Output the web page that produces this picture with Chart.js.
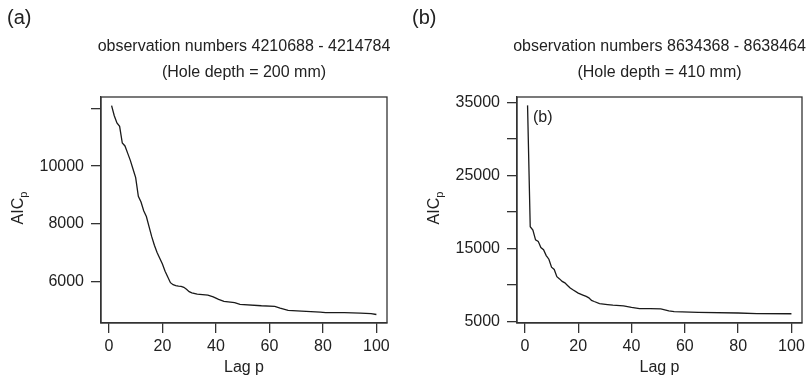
<!DOCTYPE html>
<html>
<head>
<meta charset="utf-8">
<script src="https://cdn.jsdelivr.net/npm/chart.js@4.4.1/dist/chart.umd.min.js"></script>
<style>
    html, body { margin: 0; padding: 0; background: #fff; }
    #wrap { position: relative; width: 810px; height: 380px; }
    canvas { position: absolute; top: 0; }
</style>
</head>
<body>
<div id="wrap">
    <canvas id="chartA" width="405" height="380" style="left:0"></canvas>
    <canvas id="chartB" width="405" height="380" style="left:405px"></canvas>
</div>
<script>
// ---- data ----
const lagA = [1, 2, 3, 4, 5, 6, 7, 8, 9, 10, 11, 12, 13, 14, 15, 16, 17, 18, 19, 20,
    21, 22, 23, 24, 25, 26, 27, 28, 29, 30, 31, 33, 37, 39, 41, 43, 47, 49, 57, 62,
    64, 67, 72, 79, 81, 88, 94, 98, 100];
const aicA = [12100, 11750, 11500, 11380, 10800, 10700, 10450, 10200, 9900, 9600,
    8950, 8750, 8450, 8250, 7900, 7550, 7250, 7000, 6800, 6600,
    6350, 6150, 5950, 5880, 5850, 5830, 5820, 5790, 5720, 5640, 5600, 5550, 5520, 5460,
    5370, 5300, 5260, 5200, 5150, 5130, 5070, 4990, 4960, 4930, 4910, 4910, 4890, 4875, 4845];

const lagB = [1, 2, 3, 4, 5, 6, 7, 8, 9, 10, 11, 12, 13, 14, 15, 16, 17, 18, 20, 22,
    23, 24, 25, 26, 28, 31, 33, 37, 40, 43, 47, 51, 54, 56, 65, 80, 87, 100];
const aicB = [34600, 17950, 17500, 16150, 15950, 15100, 14800, 14000, 13500, 12400,
    12100, 11100, 10800, 10450, 10250, 9900, 9550, 9300, 8850, 8550,
    8400, 8200, 7850, 7700, 7420, 7280, 7200, 7100, 6880, 6720, 6720, 6680, 6400, 6320,
    6200, 6120, 6030, 6020];

const xTicks = [0, 20, 40, 60, 80, 100];
const yTicksA = [6000, 8000, 10000, 12000];
const yTickLabelsA = ["6000", "8000", "10000", ""];
const yTicksB = [5000, 10000, 15000, 20000, 25000, 30000, 35000];
const yTickLabelsB = ["5000", "", "15000", "", "25000", "", "35000"];

const titlesA = ["observation numbers 4210688 - 4214784", "(Hole depth = 200 mm)"];
const titlesB = ["observation numbers 8634368 - 8638464", "(Hole depth = 410 mm)"];

const FONT = "'Liberation Sans', Arial, Helvetica, sans-serif";
const INK = "#222";
const AXIS = "#333";

// texte autour du graphique : lettre, titres, axes, cadre
function decorPlugin(letter, titles, innerLabel) {
    return {
        id: "decor",
        afterDraw(chart) {
            const ctx = chart.ctx;
            const a = chart.chartArea;
            const cx = (a.left + a.right) / 2;
            ctx.save();

            // cadre
            ctx.strokeStyle = AXIS;
            ctx.lineWidth = 1.3;
            ctx.strokeRect(a.left, a.top, a.right - a.left, a.bottom - a.top);

            ctx.fillStyle = INK;
            ctx.textBaseline = "middle";

            ctx.font = "20px " + FONT;
            ctx.textAlign = "left";
            ctx.fillText(letter, 7, 18);

            ctx.font = "16px " + FONT;
            ctx.textAlign = "center";
            ctx.fillText(titles[0], cx, 47);
            ctx.fillText(titles[1], cx, 73);

            ctx.fillText("Lag p", cx, 368);

            if (innerLabel) {
                ctx.textAlign = "left";
                ctx.fillText(innerLabel, a.left + 16, 118);
            }

            // AICp, p en indice
            const yc = (a.top + a.bottom) / 2 - 2;
            const xc = a.left - 82;
            ctx.translate(xc, yc);
            ctx.rotate(-Math.PI / 2);
            ctx.font = "16px " + FONT;
            const w1 = ctx.measureText("AIC").width;
            ctx.font = "11px " + FONT;
            const w2 = ctx.measureText("p").width;
            const x0 = -(w1 + w2) / 2;
            ctx.textAlign = "left";
            ctx.font = "16px " + FONT;
            ctx.fillText("AIC", x0, 0);
            ctx.font = "11px " + FONT;
            ctx.fillText("p", x0 + w1, 5);

            ctx.restore();
        },
    };
}

function makeChart(id, lags, aic, yMin, yMax, yTicks, yLabels, yWidth, padRight, plugin) {
    return new Chart(document.getElementById(id).getContext("2d"), {
        type: "line",
        data: {
            datasets: [
                {
                    data: lags.map((x, i) => ({ x: x, y: aic[i] })),
                    borderColor: "#1a1a1a",
                    borderWidth: 1.3,
                    pointRadius: 0,
                    fill: false,
                    tension: 0,
                },
            ],
        },
        options: {
            responsive: false,
            animation: false,
            devicePixelRatio: 1,
            layout: { padding: { top: 97, right: padRight, left: 0, bottom: 0 } },
            plugins: {
                legend: { display: false },
                tooltip: { enabled: false },
            },
            scales: {
                x: {
                    type: "linear",
                    min: -2.96,
                    max: 103.96,
                    afterBuildTicks: (s) => { s.ticks = xTicks.map((v) => ({ value: v })); },
                    afterFit: (s) => { s.height = 57; },
                    grid: { drawOnChartArea: false, tickLength: 10, color: AXIS, lineWidth: 1.3 },
                    border: { color: AXIS, width: 1.3 },
                    ticks: {
                        autoSkip: false,
                        maxRotation: 0,
                        padding: 4,
                        color: INK,
                        font: { family: FONT, size: 16 },
                        callback: (v) => String(v),
                    },
                },
                y: {
                    type: "linear",
                    min: yMin,
                    max: yMax,
                    afterBuildTicks: (s) => { s.ticks = yTicks.map((v) => ({ value: v })); },
                    afterFit: (s) => { s.width = yWidth; },
                    grid: { drawOnChartArea: false, tickLength: 10, color: AXIS, lineWidth: 1.3 },
                    border: { color: AXIS, width: 1.3 },
                    ticks: {
                        autoSkip: false,
                        padding: 7,
                        color: INK,
                        font: { family: FONT, size: 16 },
                        callback: (v, i) => yLabels[i],
                    },
                },
            },
        },
        plugins: [plugin],
    });
}

document.addEventListener("DOMContentLoaded", function () {
    if (typeof Chart === "undefined") {
        console.error("Chart.js not loaded");
        return;
    }
    makeChart("chartA", lagA, aicA, 4550, 12400, yTicksA, yTickLabelsA, 101, 18,
        decorPlugin("(a)", titlesA, null));
    makeChart("chartB", lagB, aicB, 4750, 35750, yTicksB, yTickLabelsB, 112, 8,
        decorPlugin("(b)", titlesB, "(b)"));
});
</script>
</body>
</html>
